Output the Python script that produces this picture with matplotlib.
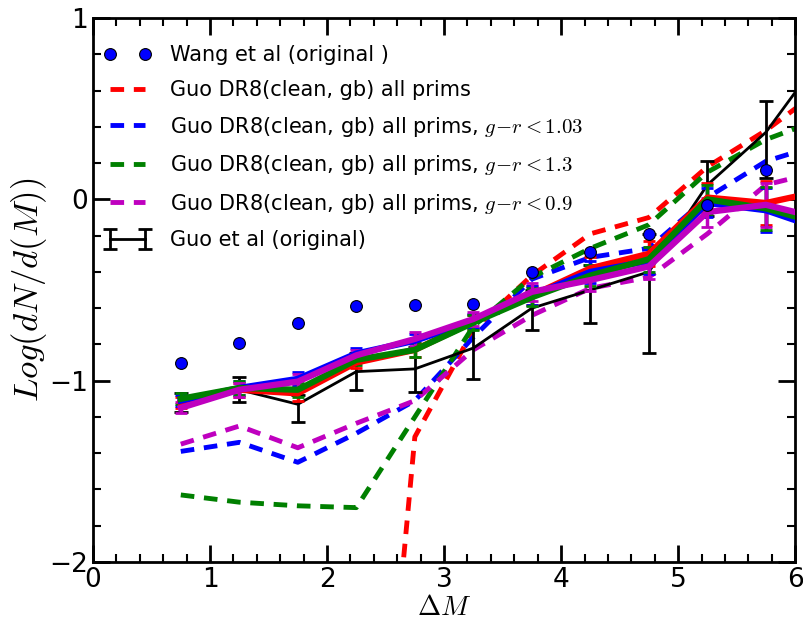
import numpy as np
import matplotlib
matplotlib.use("Agg")
import matplotlib.pyplot as plt
from matplotlib.ticker import MultipleLocator

plt.rcParams['mathtext.fontset'] = 'cm'
plt.rcParams['font.family'] = ['DejaVu Sans']

# magnitude gap bins
dm = [0.75, 1.25, 1.75, 2.25, 2.75, 3.25, 3.75, 4.25, 4.75, 5.25, 5.75, 6.25]

# Wang et al (original)
wang = [-0.90, -0.79, -0.68, -0.59, -0.585, -0.575, -0.40, -0.29, -0.19, -0.03, 0.16]

# Guo et al (original) with asymmetric errors
guo = [-1.12, -1.05, -1.13, -0.95, -0.935, -0.82, -0.60, -0.50, -0.40, 0.08, 0.37, 0.81]
guo_lo = [0.05, 0.07, 0.10, 0.10, 0.13, 0.17, 0.12, 0.18, 0.45, 0.17, 0.25, 0.30]
guo_hi = [0.05, 0.07, 0.05, 0.10, 0.12, 0.15, 0.10, 0.14, 0.21, 0.13, 0.17, 0.20]

# DR8 clean gb, solid (with errors)
red_s = [-1.12, -1.05, -1.07, -0.90, -0.83, -0.675, -0.53, -0.38, -0.30, 0.01, -0.02, 0.05]
blue_s = [-1.11, -1.04, -0.99, -0.85, -0.78, -0.67, -0.53, -0.40, -0.34, -0.02, -0.06, -0.17]
green_s = [-1.10, -1.04, -1.05, -0.885, -0.83, -0.68, -0.54, -0.42, -0.33, 0.00, -0.05, -0.14]
mag_s = [-1.15, -1.05, -1.005, -0.86, -0.77, -0.66, -0.51, -0.445, -0.37, -0.07, -0.03, -0.11]
err_s = [0.03, 0.04, 0.04, 0.03, 0.04, 0.04, 0.05, 0.06, 0.07, 0.08, 0.12, 0.20]

# DR8 clean gb, all prims (dashed)
red_d = [-6.0, -6.0, -6.0, -4.8, -1.31, -0.72, -0.42, -0.19, -0.10, 0.18, 0.38, 0.62]
blue_d = [-1.39, -1.34, -1.45, -1.29, -1.11, -0.76, -0.44, -0.32, -0.27, 0.01, 0.21, 0.31]
green_d = [-1.63, -1.67, -1.69, -1.70, -1.20, -0.70, -0.43, -0.27, -0.14, 0.15, 0.33, 0.45]
mag_d = [-1.35, -1.25, -1.37, -1.235, -1.11, -0.83, -0.64, -0.49, -0.43, -0.19, 0.08, 0.16]

fig = plt.figure(figsize=(8.04, 6.26), dpi=100)
ax = fig.add_axes([0.1157, 0.1022, 0.8733, 0.8690])

dash = (0, (2.8, 2.0))
ax.plot(dm[:len(wang)], wang, 'o', color='b', mec='k', mew=0.8, ms=8.5,
        label='Wang et al (original )', zorder=6)
ax.plot(dm, red_d, color='r', lw=3.5, ls=dash, label='Guo DR8(clean, gb) all prims')
ax.plot(dm, blue_d, color='b', lw=3.5, ls=dash,
        label=r'Guo DR8(clean, gb) all prims, $g\!-\!r<1.03$')
ax.plot(dm, green_d, color='g', lw=3.5, ls=dash,
        label=r'Guo DR8(clean, gb) all prims, $g\!-\!r<1.3$')
ax.plot(dm, mag_d, color='m', lw=3.5, ls=dash,
        label=r'Guo DR8(clean, gb) all prims, $g\!-\!r<0.9$')

ax.errorbar(dm, guo, yerr=[guo_lo, guo_hi], color='k', lw=2, capsize=5,
            capthick=2, label='Guo et al (original)', zorder=3)
for ys, c in [(red_s, 'r'), (blue_s, 'b'), (green_s, 'g'), (mag_s, 'm')]:
    ax.errorbar(dm, ys, yerr=err_s, color=c, lw=4.5, elinewidth=2.5,
                capsize=4, capthick=2, zorder=4)

ax.set_xlim(0, 6)
ax.set_ylim(-2, 1)
ax.xaxis.set_major_locator(MultipleLocator(1))
ax.xaxis.set_minor_locator(MultipleLocator(0.2))
ax.yaxis.set_major_locator(MultipleLocator(1))
ax.yaxis.set_minor_locator(MultipleLocator(0.2))
ax.tick_params(which='both', direction='in', top=True, right=True, labelsize=19)
ax.tick_params(which='major', length=12, width=2)
ax.tick_params(which='minor', length=6, width=1.5)
for s in ax.spines.values():
    s.set_linewidth(2)

ax.set_xlabel(r'$\Delta M$', fontsize=20, labelpad=0)
ax.set_ylabel(r'$Log(dN/d(M))$', fontsize=25, labelpad=0)

leg = ax.legend(loc='upper left', bbox_to_anchor=(0.003, 0.965), borderaxespad=0,
                frameon=False, numpoints=2, fontsize=15, handlelength=2.3,
                handletextpad=0.9, labelspacing=0.7)

fig.savefig('out.png', dpi=100)
